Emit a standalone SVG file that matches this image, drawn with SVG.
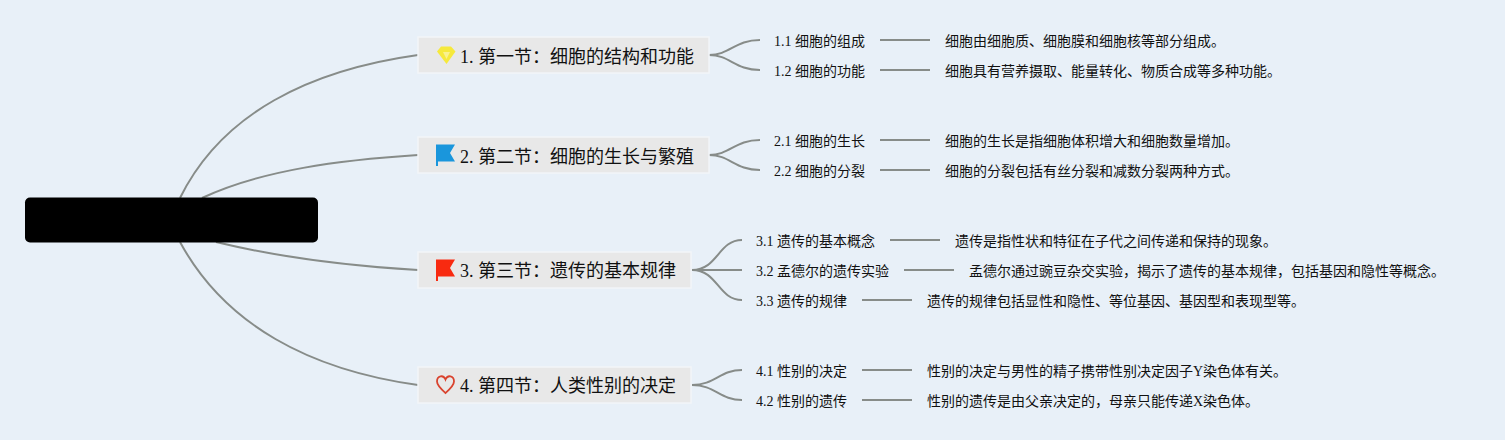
<svg xmlns="http://www.w3.org/2000/svg" width="1505" height="440" viewBox="0 0 1505 440">
<style>
text{font-family:"Liberation Serif","Noto Sans CJK SC",serif;fill:#111}
.t{font-size:18px}
.s{font-size:14px}
.box{fill:#e8e8e8;stroke:#f2f5f8;stroke-width:1.500}
.c{fill:none;stroke:#878c89;stroke-width:2}
</style>
<rect width="1505" height="440" fill="#e8f0f8"/>
<g id="connectors">
<path class="c" d="M180 198C222 113 310 70 418 55"/>
<path class="c" d="M202 198C262 170 340 160 418 155"/>
<path class="c" d="M216 242C282 258 350 266 418 270"/>
<path class="c" d="M180 242C225 325 310 370 418 385"/>
<path class="c" d="M709 55C730 55 735 40 760 40"/>
<path class="c" d="M709 55C730 55 735 70 760 70"/>
<path class="c" d="M709 155C730 155 735 140 760 140"/>
<path class="c" d="M709 155C730 155 735 170 760 170"/>
<path class="c" d="M692 270C718 270 718 240 742 240"/>
<path class="c" d="M692 270H742"/>
<path class="c" d="M692 270C718 270 718 300 742 300"/>
<path class="c" d="M692 385C715 385 720 370 742 370"/>
<path class="c" d="M692 385C715 385 720 400 742 400"/>
<path class="c" d="M880 40H930"/>
<path class="c" d="M880 70H930"/>
<path class="c" d="M880 140H930"/>
<path class="c" d="M880 170H930"/>
<path class="c" d="M890 240H940"/>
<path class="c" d="M904 270H954"/>
<path class="c" d="M862 300H912"/>
<path class="c" d="M862 370H912"/>
<path class="c" d="M862 400H912"/>
</g>
<g id="root"><rect x="25" y="197.500" width="293" height="45" rx="5" fill="#000"/></g>
<g id="n1"><rect class="box" x="418" y="37" width="291" height="36"/>
<path d="M441 46.500H451L455.500 51.500L446.500 64L437 51.500Z" fill="#f6e93c"/><path d="M443 52H450L446.500 59Z" fill="#f9f190"/>
<text class="t" x="460" y="63">1. 第一节：细胞的结构和功能</text></g>
<g id="n2"><rect class="box" x="418" y="137" width="291" height="36"/>
<path d="M436 144.500H455L450 153L455 161.500H438V166H436Z" fill="#1a96dc"/>
<text class="t" x="460" y="163">2. 第二节：细胞的生长与繁殖</text></g>
<g id="n3"><rect class="box" x="418" y="252" width="273" height="36"/>
<path d="M436 259.500H455L450 268L455 276.500H438V281H436Z" fill="#f82a10"/>
<text class="t" x="460" y="277">3. 第三节：遗传的基本规律</text></g>
<g id="n4"><rect class="box" x="418" y="367" width="273" height="36"/>
<path d="M445.500 393C441 389 437 385.500 437 381.500C437 375.500 443.500 374.500 445.500 379.500C447.500 374.500 454 375.500 454 381.500C454 385.500 450 389 445.500 393Z" fill="none" stroke="#d9432e" stroke-width="1.800"/>
<text class="t" x="460" y="392">4. 第四节：人类性别的决定</text></g>
<g id="n11"><text class="s" x="774" y="46">1.1 细胞的组成</text></g>
<g id="n11d"><text class="s" x="945" y="46">细胞由细胞质、细胞膜和细胞核等部分组成。</text></g>
<g id="n12"><text class="s" x="774" y="76">1.2 细胞的功能</text></g>
<g id="n12d"><text class="s" x="945" y="76">细胞具有营养摄取、能量转化、物质合成等多种功能。</text></g>
<g id="n21"><text class="s" x="774" y="146">2.1 细胞的生长</text></g>
<g id="n21d"><text class="s" x="945" y="146">细胞的生长是指细胞体积增大和细胞数量增加。</text></g>
<g id="n22"><text class="s" x="774" y="176">2.2 细胞的分裂</text></g>
<g id="n22d"><text class="s" x="945" y="176">细胞的分裂包括有丝分裂和减数分裂两种方式。</text></g>
<g id="n31"><text class="s" x="756" y="246">3.1 遗传的基本概念</text></g>
<g id="n31d"><text class="s" x="955" y="246">遗传是指性状和特征在子代之间传递和保持的现象。</text></g>
<g id="n32"><text class="s" x="756" y="276">3.2 孟德尔的遗传实验</text></g>
<g id="n32d"><text class="s" x="969" y="276">孟德尔通过豌豆杂交实验，揭示了遗传的基本规律，包括基因和隐性等概念。</text></g>
<g id="n33"><text class="s" x="756" y="306">3.3 遗传的规律</text></g>
<g id="n33d"><text class="s" x="927" y="306">遗传的规律包括显性和隐性、等位基因、基因型和表现型等。</text></g>
<g id="n41"><text class="s" x="756" y="376">4.1 性别的决定</text></g>
<g id="n41d"><text class="s" x="927" y="376">性别的决定与男性的精子携带性别决定因子Y染色体有关。</text></g>
<g id="n42"><text class="s" x="756" y="406">4.2 性别的遗传</text></g>
<g id="n42d"><text class="s" x="927" y="406">性别的遗传是由父亲决定的，母亲只能传递X染色体。</text></g>
</svg>
